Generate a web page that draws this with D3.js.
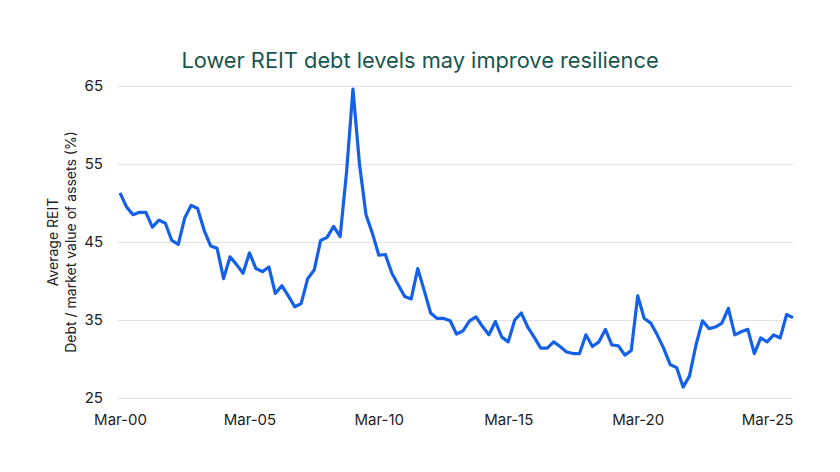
<!DOCTYPE html>
<html>
<head>
<meta charset="utf-8">
<script src="https://cdn.jsdelivr.net/npm/d3@7"></script>
<style>
  body { margin: 0; background: #fff; }
  text { font-family: Inter, "Open Sans", sans-serif; }
</style>
</head>
<body>
<div id="chart"></div>
<script>
// Dữ liệu: quý, bắt đầu Mar-00
const startQuarter = new Date(2000, 2, 1);
const debtRatio = [
  51.3, 49.5, 48.5, 48.8, 48.8, 46.9, 47.8, 47.4, 45.2, 44.7,
  48.1, 49.7, 49.3, 46.5, 44.5, 44.2, 40.3, 43.1, 42.1, 41.0,
  43.6, 41.6, 41.2, 41.8, 38.4, 39.4, 38.1, 36.7, 37.1, 40.3,
  41.4, 45.2, 45.6, 47.0, 45.7, 54.0, 64.6, 55.0, 48.5, 46.1,
  43.3, 43.4, 41.0, 39.5, 38.0, 37.7, 41.6, 38.8, 35.9, 35.2,
  35.2, 34.9, 33.2, 33.6, 34.9, 35.4, 34.2, 33.1, 34.8, 32.8,
  32.2, 35.0, 35.9, 34.1, 32.8, 31.4, 31.4, 32.2, 31.6, 30.9,
  30.7, 30.7, 33.1, 31.6, 32.2, 33.8, 31.8, 31.7, 30.5, 31.1,
  38.1, 35.2, 34.6, 33.1, 31.4, 29.3, 28.9, 26.4, 27.8, 31.8,
  34.9, 33.9, 34.1, 34.6, 36.5, 33.1, 33.5, 33.8, 30.7, 32.7,
  32.2, 33.1, 32.7, 35.7, 35.3
];
const xTickLabels = ["Mar-00", "Mar-05", "Mar-10", "Mar-15", "Mar-20", "Mar-25"];
const yTicks = [25, 35, 45, 55, 65];

const data = debtRatio.map((v, i) => ({
  date: d3.timeMonth.offset(startQuarter, 3 * i),
  value: v
}));
const parseTick = d3.timeParse("%b-%y");

// Kích thước
const W = 840, H = 472;
const margin = { top: 86, right: 47, bottom: 74, left: 120 };
const width = W - margin.left - margin.right,
      height = H - margin.top - margin.bottom;

const svg = d3.select("#chart").append("svg")
  .attr("width", W).attr("height", H);

// Tiêu đề
svg.append("text")
  .attr("x", 420).attr("y", 68)
  .attr("text-anchor", "middle")
  .style("font-size", "21.8px")
  .style("fill", "#17564f")
  .text("Lower REIT debt levels may improve resilience");

const g = svg.append("g")
  .attr("transform", `translate(${margin.left},${margin.top})`);

const x = d3.scaleTime()
  .domain(d3.extent(data, d => d.date))
  .range([0, width]);

const y = d3.scaleLinear()
  .domain([25, 65])
  .range([height, 0]);

// Lưới ngang + nhãn trục Y
const yAxis = g.append("g")
  .call(d3.axisLeft(y).tickValues(yTicks).tickSize(-width - 2).tickPadding(15))
  .attr("transform", "translate(-2,0)");
yAxis.select(".domain").remove();
yAxis.selectAll(".tick line").attr("stroke", "#e3e3e3").attr("stroke-width", 1.2);
yAxis.selectAll(".tick text")
  .style("font-size", "15px").style("fill", "#222")
  .style("font-family", "Inter, sans-serif");

// Trục X
const xAxis = g.append("g")
  .attr("transform", `translate(0,${height})`)
  .call(d3.axisBottom(x)
    .tickValues(xTickLabels.map(parseTick))
    .tickFormat(d3.timeFormat("%b-%y"))
    .tickSize(0).tickPadding(16));
xAxis.select(".domain").remove();
xAxis.selectAll(".tick text")
  .style("font-size", "15px").style("fill", "#222")
  .style("font-family", "Inter, sans-serif");

// Đường
g.append("path")
  .datum(data)
  .attr("fill", "none")
  .attr("stroke", "#1560e8")
  .attr("stroke-width", 3.2)
  .attr("stroke-linejoin", "round")
  .attr("d", d3.line().x(d => x(d.date)).y(d => y(d.value)));

// Nhãn trục Y
const yLabel = svg.append("text")
  .attr("transform", `translate(58,${margin.top + height / 2}) rotate(-90)`)
  .attr("text-anchor", "middle")
  .style("font-size", "14px")
  .style("fill", "#222");
yLabel.append("tspan").attr("x", 0).attr("dy", 0).text("Average REIT");
yLabel.append("tspan").attr("x", 0).attr("dy", "1.25em").text("Debt / market value of assets (%)");
</script>
</body>
</html>
